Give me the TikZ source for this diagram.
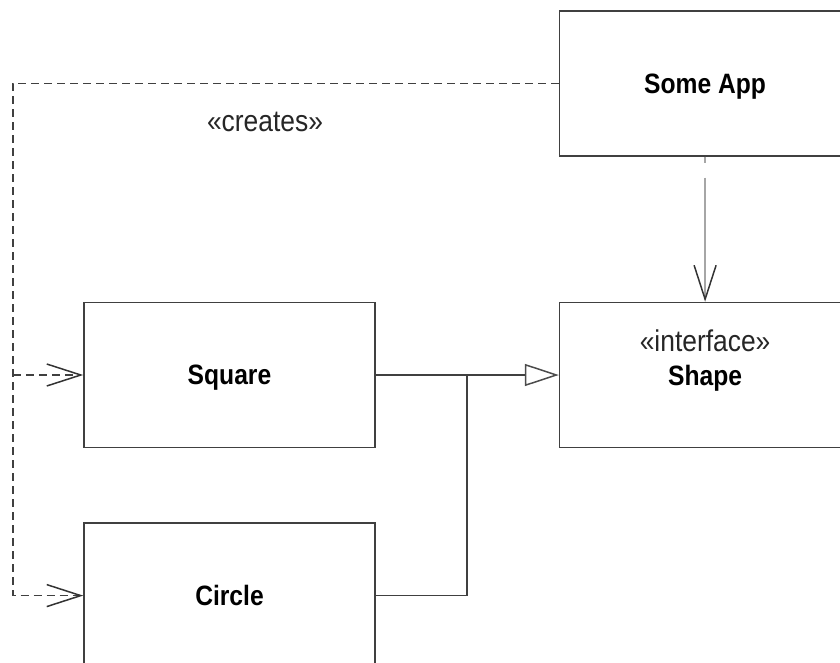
\documentclass[tikz,border=0pt]{standalone}
\usepackage{fontspec}
\setmainfont{Liberation Sans}
\newfontfamily\narrowfont[FakeStretch=0.88]{Liberation Sans}
\usetikzlibrary{arrows.meta,positioning}

\begin{document}
\begin{tikzpicture}[x=1pt,
            y=1pt,
            klass/.style={draw=black!75,
                          line width=1.6pt,
                          minimum width=291pt,
                          minimum height=145pt,
                          inner sep=0pt,
                          text depth=0pt,
                          font=\narrowfont\fontsize{28}{32}\selectfont\bfseries},
            stereo/.style={inner sep=0pt,
                           font=\narrowfont\fontsize{30}{32}\selectfont,
                           text=black!85},
            wire/.style={draw=black!75, line width=1.5pt},
            creates/.style={wire, dash pattern=on 8pt off 5pt},
            barb/.style={-{Straight Barb[length=34pt,width=22pt,color=black!80]}},
            gen/.style={-{Triangle[open,length=34pt,width=22pt,color=black!70]}}]

        \clip (0,0) rectangle (840,-663);

        \node[klass] (sq)                         at (229.5,-375) {Square};
        \node[klass] (circ)  [below=74pt of sq]                  {Circle};
        \node[klass] (shape) [right=183pt of sq]                 {Shape};
        \node[klass] (app)   [above=145pt of shape]              {Some App};

        \node[stereo] (iface) at ([yshift=34pt]shape.center) {«interface»};
        \node[stereo] (lbl)   at (265,-122)                  {«creates»};

        % dependency lines
        \coordinate (lft) at ([xshift=-546pt]app.west);
        \draw[creates,barb] (app.west) -- (lft) |- (circ.west);
        \draw[creates,barb] (lft |- sq.west) -- (sq.west);
        \draw[wire,draw=black!35,
              dash pattern=on 6pt off 15pt on 500pt,barb] (app.south) -- (shape.north);

        % realisation
        \coordinate (j) at ([xshift=91pt]sq.east);
        \draw[wire,gen] (sq.east) -- (shape.west);
        \draw[wire] (circ.east) -| (j);

\end{tikzpicture}
\end{document}
